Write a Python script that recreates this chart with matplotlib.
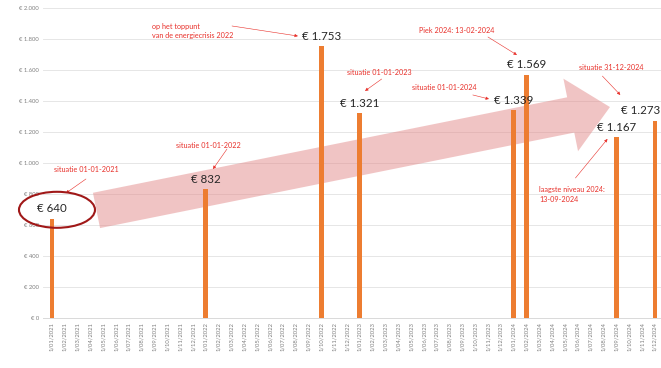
import numpy as np
import matplotlib.pyplot as plt
from matplotlib.patches import Polygon, Ellipse
from matplotlib.transforms import IdentityTransform

plt.rcParams['font.family'] = ['Lato', 'DejaVu Sans']

# monthly category axis 1/01/2021 .. 1/12/2024
MONTH_LABELS = [f"1/{m:02d}/{y}" for y in (2021, 2022, 2023, 2024) for m in range(1, 13)]

# months that carry a value and the value in euro
BAR_MONTHS = ["1/01/2021", "1/01/2022", "1/10/2022", "1/01/2023",
              "1/01/2024", "1/02/2024", "1/09/2024", "1/12/2024"]
BAR_VALUES = [640, 832, 1753, 1321, 1339, 1569, 1167, 1273]
BAR_TEXT = ["€ 640", "€ 832", "€ 1.753", "€ 1.321",
            "€ 1.339", "€ 1.569", "€ 1.167", "€ 1.273"]

Y_TICKS = [0, 200, 400, 600, 800, 1000, 1200, 1400, 1600, 1800, 2000]
Y_TICK_LABELS = ["€ 0", "€ 200", "€ 400", "€ 600", "€ 800", "€ 1.000",
                 "€ 1.200", "€ 1.400", "€ 1.600", "€ 1.800", "€ 2.000"]

# red call-outs: text, text position (x, y), arrow tail, arrow tip
NOTES = [
    ("situatie 01-01-2021", (0.16, 961), (2.65, 897), (1.09, 806)),
    ("situatie 01-01-2022", (9.66, 1116), (13.64, 1090), (12.55, 961)),
    ("op het toppunt\nvan de energiecrisis 2022", (7.8, 1852), (14.03, 1884), (19.17, 1819)),
    ("situatie 01-01-2023", (23.0, 1587), (25.7, 1542), (24.4, 1465)),
    ("situatie 01-01-2024", (28.06, 1490), (32.8, 1439), (34.06, 1413)),
    ("Piek 2024: 13-02-2024", (28.6, 1852), (33.98, 1813), (36.24, 1697)),
    ("situatie 31-12-2024", (41.1, 1619), (42.9, 1561), (44.3, 1439)),
    ("laagste niveau 2024:\n13-09-2024", (37.96, 797), (40.8, 903), (43.3, 1155)),
]

ORANGE = "#ED7D31"
RED = "#E8302A"

fig = plt.figure(figsize=(6.61, 3.68), dpi=100)
ax = fig.add_axes([43 / 661, 50 / 368, 618 / 661, 310 / 368])

x = np.arange(len(MONTH_LABELS))
vals = np.zeros(len(MONTH_LABELS))
idx = [MONTH_LABELS.index(m) for m in BAR_MONTHS]
vals[idx] = BAR_VALUES
ax.bar(x, vals, width=0.38, color=ORANGE, zorder=3)

ax.set_xlim(-0.7, 47.47)
ax.set_ylim(0, 2000)
ax.set_yticks(Y_TICKS)
ax.set_yticklabels(Y_TICK_LABELS, fontsize=4.2, color="#7f7f7f")
ax.set_xticks(x)
ax.set_xticklabels(MONTH_LABELS, rotation=90, fontsize=4.2, color="#7f7f7f")
ax.tick_params(length=0, pad=3)
ax.grid(axis="y", color="#e6e6e6", lw=0.7, zorder=0)
for s in ["top", "right", "left"]:
    ax.spines[s].set_visible(False)
ax.spines["bottom"].set_color("#d9d9d9")
ax.spines["bottom"].set_linewidth(0.7)

# value labels (last one pushed left so it stays on the canvas)
for i, v, t in zip(idx, BAR_VALUES, BAR_TEXT):
    dx = -14 if i == len(MONTH_LABELS) - 1 else 0
    ax.annotate(t, (i, v), xytext=(dx, 10), textcoords="offset pixels",
                ha="center", va="center", fontsize=8.3, color="#262626",
                zorder=5, annotation_clip=False)

# red call-outs
for txt, pos, tail, tip in NOTES:
    ax.text(pos[0], pos[1], txt, fontsize=5.2, color=RED, ha="left",
            va="center", linespacing=1.45, zorder=6)
    ax.annotate("", xy=tip, xytext=tail,
                arrowprops=dict(arrowstyle="-|>", color=RED, lw=0.4,
                                mutation_scale=4.5, shrinkA=0, shrinkB=0),
                zorder=6)

# ellipse around the first value
fig.canvas.draw()
ex, ey = ax.transData.transform((0, 640))
ell = Ellipse((ex + 5, ey + 9), 76, 36, transform=IdentityTransform(),
              fill=False, edgecolor="#A01818", lw=1.5, zorder=7)
fig.patches.append(ell)

# big pink trend arrow (built in pixel space)
p0 = ax.transData.transform((3.47, 694))
p1 = ax.transData.transform((43.49, 1361))
d = (p1 - p0) / np.hypot(*(p1 - p0))
n = np.array([-d[1], d[0]])
shaft, head, head_len = 18, 37, 40
base = p1 - d * head_len
pts = [p0 + n * shaft, base + n * shaft, base + n * head, p1,
       base - n * head, base - n * shaft, p0 - n * shaft]
arrow = Polygon(pts, closed=True, transform=IdentityTransform(),
                facecolor="#E38A8A", alpha=0.5, edgecolor="none", zorder=2)
ax.add_artist(arrow)

fig.savefig("out.png", dpi=100)
